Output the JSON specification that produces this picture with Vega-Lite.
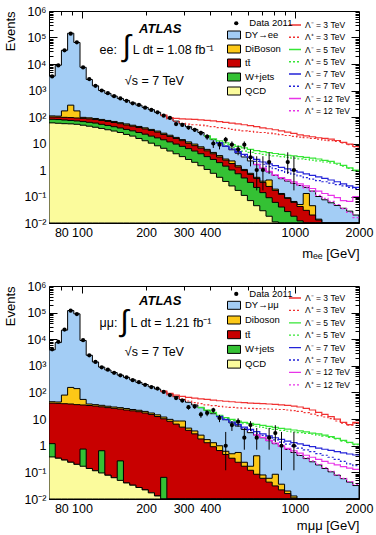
{
  "$schema": "https://vega.github.io/schema/vega-lite/v6.json",
  "background": "white",
  "padding": {"left": 4, "top": 4, "right": 4, "bottom": 4},
  "config": {
    "font": "Liberation Sans",
    "view": {"stroke": "black", "strokeWidth": 1},
    "axis": {"labelFont": "Liberation Sans", "titleFont": "Liberation Sans", "labelColor": "black", "titleColor": "black", "titleFontWeight": "normal", "domain": false, "grid": false, "tickColor": "black", "labelFontSize": 12.5, "titleFontSize": 13, "labelOverlap": false, "labelFlush": false},
    "legend": {"padding": 0, "labelFont": "Liberation Sans", "labelColor": "black", "labelLimit": 300, "titlePadding": 0}
  },
  "datasets": {
    "bgE": [
      {"m":70,"dy":3500,"db":110,"tt":100,"w":82,"qcd":60},
      {"m":74.86,"dy":9000,"db":108,"tt":99,"w":80,"qcd":58},
      {"m":80.06,"dy":33000,"db":170,"tt":97,"w":77,"qcd":56},
      {"m":85.61,"dy":145000,"db":280,"tt":95,"w":74,"qcd":55},
      {"m":91.55,"dy":65000,"db":170,"tt":92,"w":71,"qcd":53},
      {"m":97.88,"dy":7500,"db":97,"tt":89,"w":67,"qcd":49},
      {"m":104.67,"dy":2600,"db":93,"tt":85,"w":63,"qcd":45},
      {"m":111.92,"dy":1500,"db":88,"tt":80,"w":59,"qcd":41},
      {"m":119.69,"dy":1000,"db":81,"tt":74,"w":53,"qcd":37},
      {"m":128.0,"dy":780,"db":74,"tt":68,"w":48,"qcd":33},
      {"m":136.89,"dy":620,"db":68,"tt":62,"w":43,"qcd":29.5},
      {"m":146.39,"dy":500,"db":61,"tt":56,"w":38.5,"qcd":26},
      {"m":156.55,"dy":420,"db":55,"tt":50,"w":34,"qcd":22},
      {"m":167.41,"dy":340,"db":49,"tt":45,"w":30,"qcd":19},
      {"m":179.03,"dy":280,"db":44,"tt":40,"w":26,"qcd":15.5},
      {"m":191.46,"dy":230,"db":39,"tt":35.5,"w":22.5,"qcd":12.7},
      {"m":204.74,"dy":190,"db":34,"tt":31,"w":19,"qcd":10.3},
      {"m":218.95,"dy":150,"db":29.5,"tt":27,"w":16.3,"qcd":8.2},
      {"m":234.14,"dy":115,"db":24.5,"tt":22,"w":13.8,"qcd":6.6},
      {"m":250.38,"dy":90,"db":20.5,"tt":18.5,"w":11.5,"qcd":5.2},
      {"m":267.75,"dy":70,"db":17,"tt":15.5,"w":9.5,"qcd":4.1},
      {"m":286.33,"dy":55,"db":14,"tt":12.8,"w":7.8,"qcd":3.2},
      {"m":306.2,"dy":43,"db":11.5,"tt":10.2,"w":6.4,"qcd":2.5},
      {"m":327.44,"dy":34,"db":9.5,"tt":8.3,"w":5.2,"qcd":1.95},
      {"m":350.17,"dy":26,"db":7.5,"tt":6.7,"w":4.1,"qcd":1.45},
      {"m":374.46,"dy":19,"db":6.0,"tt":5.3,"w":3.2,"qcd":1.05},
      {"m":400.45,"dy":14,"db":4.6,"tt":4.1,"w":2.5,"qcd":0.75},
      {"m":428.23,"dy":10.5,"db":3.5,"tt":3.1,"w":1.9,"qcd":0.53},
      {"m":457.95,"dy":7.8,"db":2.6,"tt":2.35,"w":1.4,"qcd":0.37},
      {"m":489.72,"dy":5.8,"db":2.2,"tt":1.75,"w":1.0,"qcd":0.25},
      {"m":523.7,"dy":4.3,"db":1.45,"tt":1.3,"w":0.72,"qcd":0.17},
      {"m":559.63,"dy":3.1,"db":1.05,"tt":0.95,"w":0.5,"qcd":0.11},
      {"m":598.12,"dy":2.2,"db":0.75,"tt":0.68,"w":0.34,"qcd":0.07},
      {"m":639.66,"dy":1.6,"db":0.53,"tt":0.48,"w":0.22,"qcd":0.045},
      {"m":684.04,"dy":1.15,"db":0.38,"tt":0.34,"w":0.14,"qcd":0.029},
      {"m":731.52,"dy":0.85,"db":0.42,"tt":0.24,"w":0.09,"qcd":0.018},
      {"m":782.28,"dy":0.62,"db":0.19,"tt":0.17,"w":0.06,"qcd":0.011},
      {"m":836.55,"dy":0.47,"db":0.13,"tt":0.12,"w":0.04,"qcd":0.007},
      {"m":894.43,"dy":0.38,"db":0.09,"tt":0.085,"w":0.027,"qcd":0.001},
      {"m":956.59,"dy":0.31,"db":0.065,"tt":0.06,"w":0.018,"qcd":0.001},
      {"m":1022.9,"dy":0.26,"db":0.05,"tt":0.042,"w":0.012,"qcd":0.001},
      {"m":1093.9,"dy":0.22,"db":0.13,"tt":0.03,"w":0.008,"qcd":0.001},
      {"m":1169.8,"dy":0.16,"db":0.045,"tt":0.02,"w":0.001,"qcd":0.001},
      {"m":1250.8,"dy":0.1,"db":0.014,"tt":0.013,"w":0.001,"qcd":0.001},
      {"m":1337.7,"dy":0.075,"db":0.009,"tt":0.008,"w":0.001,"qcd":0.001},
      {"m":1430.6,"dy":0.058,"db":0.001,"tt":0.001,"w":0.001,"qcd":0.001},
      {"m":1529.8,"dy":0.046,"db":0.001,"tt":0.001,"w":0.001,"qcd":0.001},
      {"m":1635.9,"dy":0.036,"db":0.001,"tt":0.001,"w":0.001,"qcd":0.001},
      {"m":1749.4,"dy":0.028,"db":0.001,"tt":0.001,"w":0.001,"qcd":0.001},
      {"m":1870.6,"dy":0.02,"db":0.001,"tt":0.001,"w":0.001,"qcd":0.001},
      {"m":2000,"dy":0.02,"db":0.001,"tt":0.001,"w":0.001,"qcd":0.001}
    ],
    "dataE": [
      {"m":72.4,"n":3400,"lo":3342,"hi":3458},
      {"m":77.4,"n":8800,"lo":8706,"hi":8894},
      {"m":82.8,"n":33000,"lo":32818,"hi":33182},
      {"m":88.5,"n":140000,"lo":139626,"hi":140374},
      {"m":94.6,"n":66000,"lo":65743,"hi":66257},
      {"m":101.2,"n":7400,"lo":7314,"hi":7486},
      {"m":108.2,"n":2700,"lo":2648,"hi":2752},
      {"m":115.7,"n":1500,"lo":1461,"hi":1539},
      {"m":123.8,"n":1000,"lo":968,"hi":1032},
      {"m":132.3,"n":790,"lo":762,"hi":818},
      {"m":141.5,"n":610,"lo":585,"hi":635},
      {"m":151.4,"n":500,"lo":478,"hi":522},
      {"m":161.9,"n":410,"lo":390,"hi":430},
      {"m":173.1,"n":330,"lo":312,"hi":348},
      {"m":185.1,"n":285,"lo":268,"hi":302},
      {"m":197.9,"n":225,"lo":210,"hi":240},
      {"m":211.7,"n":185,"lo":171,"hi":199},
      {"m":226.3,"n":150,"lo":138,"hi":162},
      {"m":242.0,"n":112,"lo":101,"hi":123},
      {"m":258.8,"n":92,"lo":82,"hi":102},
      {"m":276.7,"n":54,"lo":46.7,"hi":61.3},
      {"m":295.9,"n":50,"lo":42.9,"hi":57.1},
      {"m":316.4,"n":40,"lo":33.7,"hi":46.3},
      {"m":338.4,"n":33,"lo":27.3,"hi":38.7},
      {"m":361.9,"n":25,"lo":20,"hi":30},
      {"m":387.0,"n":18,"lo":13.8,"hi":22.2},
      {"m":413.8,"n":10,"lo":6.8,"hi":13.2},
      {"m":442.5,"n":9,"lo":6,"hi":12},
      {"m":473.2,"n":14,"lo":10.3,"hi":17.7},
      {"m":506.0,"n":9,"lo":6,"hi":12},
      {"m":541.1,"n":6,"lo":3.6,"hi":8.4},
      {"m":578.7,"n":9,"lo":6,"hi":12},
      {"m":618.8,"n":3,"lo":1.37,"hi":5.92},
      {"m":661.7,"n":1,"lo":0.17,"hi":3.3},
      {"m":707.6,"n":1,"lo":0.17,"hi":3.3},
      {"m":756.7,"n":2,"lo":0.71,"hi":4.64},
      {"m":925.3,"n":2,"lo":0.71,"hi":4.64},
      {"m":989.3,"n":1,"lo":0.17,"hi":3.3}
    ],
    "sigE": [
      {"m":234.14,"m3":118,"p3":113},
      {"m":250.38,"m3":95,"p3":85},
      {"m":267.75,"m3":88,"p3":65},
      {"m":286.33,"m3":85,"p3":58},
      {"m":306.2,"m3":83,"p3":54},
      {"m":327.44,"m3":81,"p3":51},
      {"m":350.17,"m3":78,"p3":49},
      {"m":374.46,"m3":75,"p3":46,"m5":19.5,"p5":19.2},
      {"m":400.45,"m3":72,"p3":43,"m5":15,"p5":14.3},
      {"m":428.23,"m3":67,"p3":40,"m5":12.5,"p5":11,"m7":10.6,"p7":10.5},
      {"m":457.95,"m3":63,"p3":37,"m5":10.5,"p5":8.8,"m7":8.0,"p7":7.9},
      {"m":489.72,"m3":59,"p3":34,"m5":9.0,"p5":7.2,"m7":6.2,"p7":6.0},
      {"m":523.7,"m3":55,"p3":32,"m5":7.8,"p5":6.0,"m7":4.9,"p7":4.6},
      {"m":559.63,"m3":51,"p3":30,"m5":6.8,"p5":5.2,"m7":3.9,"p7":3.5},
      {"m":598.12,"m3":47,"p3":28.5,"m5":6.0,"p5":4.6,"m7":3.1,"p7":2.7},
      {"m":639.66,"m3":43,"p3":27,"m5":5.4,"p5":4.2,"m7":2.5,"p7":2.1,"m12":1.62,"p12":1.6},
      {"m":684.04,"m3":39,"p3":26,"m5":4.9,"p5":3.9,"m7":2.0,"p7":1.65,"m12":1.17,"p12":1.15},
      {"m":731.52,"m3":36,"p3":24.5,"m5":4.5,"p5":3.6,"m7":1.7,"p7":1.35,"m12":0.88,"p12":0.85},
      {"m":782.28,"m3":33,"p3":23,"m5":4.2,"p5":3.4,"m7":1.45,"p7":1.12,"m12":0.66,"p12":0.63},
      {"m":836.55,"m3":30,"p3":21.5,"m5":3.9,"p5":3.2,"m7":1.25,"p7":0.95,"m12":0.52,"p12":0.48},
      {"m":894.43,"m3":27,"p3":20,"m5":3.6,"p5":3.0,"m7":1.1,"p7":0.82,"m12":0.43,"p12":0.39},
      {"m":956.59,"m3":24,"p3":18.6,"m5":3.4,"p5":2.8,"m7":0.95,"p7":0.7,"m12":0.36,"p12":0.32},
      {"m":1022.9,"m3":21,"p3":17.5,"m5":3.2,"p5":2.65,"m7":0.83,"p7":0.6,"m12":0.3,"p12":0.26},
      {"m":1093.9,"m3":19.5,"p3":16.5,"m5":3.0,"p5":2.5,"m7":0.72,"p7":0.52,"m12":0.25,"p12":0.21},
      {"m":1169.8,"m3":18,"p3":15.5,"m5":2.8,"p5":2.35,"m7":0.63,"p7":0.45,"m12":0.2,"p12":0.16},
      {"m":1250.8,"m3":16.5,"p3":14.5,"m5":2.6,"p5":2.2,"m7":0.55,"p7":0.4,"m12":0.16,"p12":0.11},
      {"m":1337.7,"m3":15.5,"p3":13.5,"m5":2.3,"p5":2.0,"m7":0.48,"p7":0.36,"m12":0.13,"p12":0.085},
      {"m":1430.6,"m3":14.5,"p3":12.8,"m5":2.1,"p5":1.85,"m7":0.42,"p7":0.32,"m12":0.11,"p12":0.065},
      {"m":1529.8,"m3":13,"p3":12,"m5":1.8,"p5":1.65,"m7":0.36,"p7":0.28,"m12":0.09,"p12":0.05},
      {"m":1635.9,"m3":11,"p3":10.5,"m5":1.5,"p5":1.4,"m7":0.3,"p7":0.25,"m12":0.07,"p12":0.035},
      {"m":1749.4,"m3":9.5,"p3":9,"m5":1.2,"p5":1.15,"m7":0.25,"p7":0.22,"m12":0.065,"p12":0.025},
      {"m":1870.6,"m3":7.7,"p3":7.5,"m5":1.0,"p5":0.95,"m7":0.22,"p7":0.2,"m12":0.1,"p12":0.016},
      {"m":2000,"m3":7.7,"p3":7.5,"m5":1.0,"p5":0.95,"m7":0.22,"p7":0.2,"m12":0.1,"p12":0.016}
    ],
    "bgM": [
      {"m":70,"dy":4000,"db":45,"tt":40,"w":1.2,"qcd":0.38},
      {"m":74.86,"dy":7500,"db":44,"tt":39,"w":0.34,"qcd":0.34},
      {"m":80.06,"dy":22000,"db":80,"tt":38,"w":0.29,"qcd":0.29},
      {"m":85.61,"dy":120000,"db":155,"tt":37,"w":0.24,"qcd":0.24},
      {"m":91.55,"dy":90000,"db":140,"tt":35,"w":0.2,"qcd":0.2},
      {"m":97.88,"dy":9000,"db":55,"tt":34,"w":0.75,"qcd":0.17},
      {"m":104.67,"dy":2500,"db":37,"tt":32.5,"w":0.14,"qcd":0.14},
      {"m":111.92,"dy":1400,"db":35,"tt":31,"w":0.115,"qcd":0.115},
      {"m":119.69,"dy":900,"db":33,"tt":29,"w":0.65,"qcd":0.095},
      {"m":128.0,"dy":700,"db":30.5,"tt":27,"w":0.078,"qcd":0.078},
      {"m":136.89,"dy":560,"db":28.5,"tt":25.5,"w":0.063,"qcd":0.063},
      {"m":146.39,"dy":450,"db":27,"tt":24,"w":0.27,"qcd":0.05},
      {"m":156.55,"dy":370,"db":25,"tt":22,"w":0.04,"qcd":0.04},
      {"m":167.41,"dy":300,"db":23,"tt":20.5,"w":0.033,"qcd":0.033},
      {"m":179.03,"dy":240,"db":21.5,"tt":19,"w":0.027,"qcd":0.027},
      {"m":191.46,"dy":200,"db":19.5,"tt":17,"w":0.022,"qcd":0.022},
      {"m":204.74,"dy":165,"db":17,"tt":15,"w":0.017,"qcd":0.017},
      {"m":218.95,"dy":135,"db":14.5,"tt":12.5,"w":0.013,"qcd":0.013},
      {"m":234.14,"dy":110,"db":12,"tt":10.3,"w":0.065,"qcd":0.009},
      {"m":250.38,"dy":88,"db":9.8,"tt":8.3,"w":0.001,"qcd":0.001},
      {"m":267.75,"dy":70,"db":8.5,"tt":6.5,"w":0.001,"qcd":0.001},
      {"m":286.33,"dy":55,"db":8.5,"tt":5.0,"w":0.001,"qcd":0.001},
      {"m":306.2,"dy":43,"db":4.6,"tt":3.8,"w":0.001,"qcd":0.001},
      {"m":327.44,"dy":34,"db":3.6,"tt":2.8,"w":0.001,"qcd":0.001},
      {"m":350.17,"dy":27,"db":2.5,"tt":1.8,"w":0.001,"qcd":0.001},
      {"m":374.46,"dy":21,"db":1.7,"tt":1.3,"w":0.001,"qcd":0.001},
      {"m":400.45,"dy":16,"db":1.3,"tt":0.92,"w":0.001,"qcd":0.001},
      {"m":428.23,"dy":12.5,"db":1.0,"tt":0.66,"w":0.001,"qcd":0.001},
      {"m":457.95,"dy":9.5,"db":0.62,"tt":0.47,"w":0.001,"qcd":0.001},
      {"m":489.72,"dy":7.2,"db":0.5,"tt":0.34,"w":0.001,"qcd":0.001},
      {"m":523.7,"dy":5.5,"db":0.56,"tt":0.24,"w":0.001,"qcd":0.001},
      {"m":559.63,"dy":4.1,"db":0.24,"tt":0.17,"w":0.001,"qcd":0.001},
      {"m":598.12,"dy":3.1,"db":0.17,"tt":0.12,"w":0.001,"qcd":0.001},
      {"m":639.66,"dy":2.5,"db":0.42,"tt":0.085,"w":0.001,"qcd":0.001},
      {"m":684.04,"dy":2.0,"db":0.08,"tt":0.06,"w":0.001,"qcd":0.001},
      {"m":731.52,"dy":1.55,"db":0.06,"tt":0.043,"w":0.001,"qcd":0.001},
      {"m":782.28,"dy":1.2,"db":0.085,"tt":0.031,"w":0.001,"qcd":0.001},
      {"m":836.55,"dy":0.95,"db":0.036,"tt":0.022,"w":0.001,"qcd":0.001},
      {"m":894.43,"dy":0.73,"db":0.02,"tt":0.016,"w":0.001,"qcd":0.001},
      {"m":956.59,"dy":0.56,"db":0.013,"tt":0.011,"w":0.001,"qcd":0.001},
      {"m":1022.9,"dy":0.43,"db":0.009,"tt":0.008,"w":0.001,"qcd":0.001},
      {"m":1093.9,"dy":0.33,"db":0.001,"tt":0.001,"w":0.001,"qcd":0.001},
      {"m":1169.8,"dy":0.25,"db":0.001,"tt":0.001,"w":0.001,"qcd":0.001},
      {"m":1250.8,"dy":0.19,"db":0.001,"tt":0.001,"w":0.001,"qcd":0.001},
      {"m":1337.7,"dy":0.14,"db":0.001,"tt":0.001,"w":0.001,"qcd":0.001},
      {"m":1430.6,"dy":0.105,"db":0.001,"tt":0.001,"w":0.001,"qcd":0.001},
      {"m":1529.8,"dy":0.078,"db":0.001,"tt":0.001,"w":0.001,"qcd":0.001},
      {"m":1635.9,"dy":0.058,"db":0.001,"tt":0.001,"w":0.001,"qcd":0.001},
      {"m":1749.4,"dy":0.043,"db":0.001,"tt":0.001,"w":0.001,"qcd":0.001},
      {"m":1870.6,"dy":0.032,"db":0.001,"tt":0.001,"w":0.001,"qcd":0.001},
      {"m":2000,"dy":0.032,"db":0.001,"tt":0.001,"w":0.001,"qcd":0.001}
    ],
    "dataM": [
      {"m":72.4,"n":4200,"lo":4135,"hi":4265},
      {"m":77.4,"n":8000,"lo":7911,"hi":8089},
      {"m":82.8,"n":23000,"lo":22848,"hi":23152},
      {"m":88.5,"n":118000,"lo":117656,"hi":118344},
      {"m":94.6,"n":88000,"lo":87703,"hi":88297},
      {"m":101.2,"n":9200,"lo":9104,"hi":9296},
      {"m":108.2,"n":2500,"lo":2450,"hi":2550},
      {"m":115.7,"n":1400,"lo":1363,"hi":1437},
      {"m":123.8,"n":880,"lo":850,"hi":910},
      {"m":132.3,"n":720,"lo":693,"hi":747},
      {"m":141.5,"n":550,"lo":527,"hi":573},
      {"m":151.4,"n":440,"lo":419,"hi":461},
      {"m":161.9,"n":370,"lo":351,"hi":389},
      {"m":173.1,"n":290,"lo":273,"hi":307},
      {"m":185.1,"n":245,"lo":229,"hi":261},
      {"m":197.9,"n":195,"lo":181,"hi":209},
      {"m":211.7,"n":160,"lo":147,"hi":173},
      {"m":226.3,"n":140,"lo":128,"hi":152},
      {"m":242.0,"n":105,"lo":95,"hi":115},
      {"m":258.8,"n":80,"lo":71,"hi":89},
      {"m":276.7,"n":62,"lo":54,"hi":70},
      {"m":295.9,"n":50,"lo":43,"hi":57},
      {"m":316.4,"n":28,"lo":22.7,"hi":33.3},
      {"m":338.4,"n":30,"lo":24.5,"hi":35.5},
      {"m":361.9,"n":15,"lo":11.2,"hi":19},
      {"m":387.0,"n":17,"lo":12.9,"hi":21.2},
      {"m":413.8,"n":22,"lo":17.3,"hi":26.7},
      {"m":442.5,"n":11,"lo":7.7,"hi":14.4},
      {"m":473.2,"n":1,"lo":0.12,"hi":3.3},
      {"m":506.0,"n":6,"lo":3.6,"hi":8.4},
      {"m":541.1,"n":8,"lo":5.2,"hi":10.8},
      {"m":578.7,"n":2,"lo":0.71,"hi":4.64},
      {"m":618.8,"n":6,"lo":3.6,"hi":8.4},
      {"m":661.7,"n":2,"lo":0.71,"hi":4.64},
      {"m":756.7,"n":2,"lo":0.71,"hi":4.64},
      {"m":809.2,"n":3,"lo":1.37,"hi":5.92},
      {"m":865.0,"n":1,"lo":0.12,"hi":3.3},
      {"m":989.3,"n":1,"lo":0.12,"hi":3.3}
    ],
    "sigM": [
      {"m":234.14,"m3":112,"p3":108},
      {"m":250.38,"m3":92,"p3":82},
      {"m":267.75,"m3":80,"p3":66},
      {"m":286.33,"m3":72,"p3":56},
      {"m":306.2,"m3":66,"p3":48},
      {"m":327.44,"m3":62,"p3":42},
      {"m":350.17,"m3":58,"p3":38,"m5":27.5,"p5":27},
      {"m":374.46,"m3":55,"p3":34,"m5":22,"p5":21.5},
      {"m":400.45,"m3":52,"p3":32,"m5":18,"p5":17},
      {"m":428.23,"m3":49,"p3":30,"m5":14,"p5":13,"m7":12.6,"p7":12.5},
      {"m":457.95,"m3":47,"p3":28.5,"m5":11.5,"p5":10.5,"m7":9.8,"p7":9.6},
      {"m":489.72,"m3":45,"p3":27.5,"m5":9.8,"p5":8.8,"m7":7.8,"p7":7.5},
      {"m":523.7,"m3":43,"p3":26.5,"m5":8.5,"p5":7.6,"m7":6.3,"p7":5.9},
      {"m":559.63,"m3":41.5,"p3":26,"m5":7.6,"p5":6.7,"m7":5.0,"p7":4.6},
      {"m":598.12,"m3":40,"p3":25.5,"m5":6.9,"p5":6.0,"m7":4.1,"p7":3.7},
      {"m":639.66,"m3":39,"p3":25,"m5":6.3,"p5":5.4,"m7":3.4,"p7":3.0,"m12":2.55,"p12":2.5},
      {"m":684.04,"m3":38,"p3":24.5,"m5":5.8,"p5":4.9,"m7":2.8,"p7":2.45,"m12":2.05,"p12":2.0},
      {"m":731.52,"m3":37,"p3":24,"m5":5.3,"p5":4.5,"m7":2.35,"p7":2.0,"m12":1.6,"p12":1.55},
      {"m":782.28,"m3":36,"p3":23.5,"m5":4.9,"p5":4.1,"m7":2.0,"p7":1.65,"m12":1.27,"p12":1.2},
      {"m":836.55,"m3":34.5,"p3":23,"m5":4.5,"p5":3.8,"m7":1.75,"p7":1.38,"m12":1.0,"p12":0.95},
      {"m":894.43,"m3":33,"p3":22,"m5":4.2,"p5":3.5,"m7":1.5,"p7":1.15,"m12":0.8,"p12":0.73},
      {"m":956.59,"m3":31,"p3":21,"m5":3.9,"p5":3.3,"m7":1.32,"p7":0.97,"m12":0.65,"p12":0.57},
      {"m":1022.9,"m3":28.5,"p3":19.5,"m5":3.6,"p5":3.1,"m7":1.17,"p7":0.82,"m12":0.53,"p12":0.45},
      {"m":1093.9,"m3":25.5,"p3":17.5,"m5":3.3,"p5":2.9,"m7":1.03,"p7":0.7,"m12":0.44,"p12":0.35},
      {"m":1169.8,"m3":22,"p3":15.5,"m5":3.0,"p5":2.7,"m7":0.92,"p7":0.6,"m12":0.37,"p12":0.27},
      {"m":1250.8,"m3":18,"p3":13.5,"m5":2.8,"p5":2.5,"m7":0.82,"p7":0.51,"m12":0.31,"p12":0.2},
      {"m":1337.7,"m3":15,"p3":12,"m5":2.5,"p5":2.3,"m7":0.74,"p7":0.44,"m12":0.26,"p12":0.15},
      {"m":1430.6,"m3":12.5,"p3":10.5,"m5":2.2,"p5":2.05,"m7":0.67,"p7":0.37,"m12":0.22,"p12":0.11},
      {"m":1529.8,"m3":10,"p3":8.5,"m5":1.9,"p5":1.8,"m7":0.6,"p7":0.31,"m12":0.19,"p12":0.08},
      {"m":1635.9,"m3":7.5,"p3":7,"m5":1.6,"p5":1.5,"m7":0.54,"p7":0.26,"m12":0.165,"p12":0.06},
      {"m":1749.4,"m3":6.2,"p3":6,"m5":1.35,"p5":1.3,"m7":0.49,"p7":0.21,"m12":0.145,"p12":0.045},
      {"m":1870.6,"m3":7.5,"p3":7,"m5":1.15,"p5":1.1,"m7":0.45,"p7":0.18,"m12":0.13,"p12":0.035},
      {"m":2000,"m3":7.5,"p3":7,"m5":1.15,"p5":1.1,"m7":0.45,"p7":0.18,"m12":0.13,"p12":0.035}
    ]
  },
  "vconcat": [
    {
      "width": 310,
      "height": 212,
      "resolve": {"axis": {"x": "independent", "y": "independent"}},
      "layer": [
        {
          "data": {"name": "bgE"},
          "mark": {"type": "area", "interpolate": "step-after", "stroke": "black", "strokeWidth": 1, "clip": true},
          "encoding": {
            "x": {"field": "m", "type": "quantitative", "scale": {"type": "log", "domain": [70, 2000], "nice": false},
              "axis": {"values": [70,80,90,100,200,300,400,500,600,700,800,900,1000,2000], "labelExpr": "indexof([80,100,200,300,400,1000,2000], datum.value) >= 0 ? '' + datum.value : ''", "tickSize": {"condition": {"test": "indexof([80,100,200,300,400,1000,2000], datum.value) >= 0", "value": -7}, "value": -4}, "labelPadding": 10, "title": "mₑₑ [GeV]", "titleAnchor": "end", "titlePadding": 6}},
            "y": {"field": "dy", "type": "quantitative", "scale": {"type": "log", "domain": [0.01, 1000000], "nice": false},
              "axis": {"values": [0.01,0.02,0.03,0.04,0.05,0.06,0.07,0.08,0.09,0.1,0.2,0.3,0.4,0.5,0.6,0.7,0.8,0.9,1,2,3,4,5,6,7,8,9,10,20,30,40,50,60,70,80,90,100,200,300,400,500,600,700,800,900,1000,2000,3000,4000,5000,6000,7000,8000,9000,10000,20000,30000,40000,50000,60000,70000,80000,90000,100000,200000,300000,400000,500000,600000,700000,800000,900000,1000000],
                "labelExpr": "abs(log(datum.value)/LN10 - round(log(datum.value)/LN10)) < 0.000001 ? ['10⁻²','10⁻¹','1','10','10²','10³','10⁴','10⁵','10⁶'][round(log(datum.value)/LN10) + 2] : ''",
                "tickSize": {"condition": {"test": "abs(log(datum.value)/LN10 - round(log(datum.value)/LN10)) < 0.000001", "value": -8}, "value": -4},
                "labelPadding": 11, "title": "Events", "titleAnchor": "end", "titlePadding": 6}},
            "y2": {"datum": 0.01},
            "fill": {"datum": "DY→ee", "scale": {"domain": ["DY→ee", "DiBoson", "tt̄", "W+jets", "QCD"], "range": ["#a3cdf5", "#fcc817", "#c80000", "#34c134", "#fbfb9c"]},
              "legend": {"title": null, "orient": "none", "legendX": 179.5, "legendY": 18.5, "symbolType": "M-1.3,-0.8L1.3,-0.8L1.3,0.8L-1.3,0.8Z", "symbolSize": 100, "symbolStrokeColor": "black", "symbolStrokeWidth": 1, "symbolOpacity": 1, "labelFontSize": 9.5, "labelOffset": 5.5, "rowPadding": 1}}
          }
        },
        {
          "data": {"name": "bgE"},
          "mark": {"type": "area", "interpolate": "step-after", "stroke": "black", "strokeWidth": 1, "clip": true},
          "encoding": {"x": {"field": "m", "type": "quantitative", "axis": null}, "y": {"field": "db", "type": "quantitative", "axis": null}, "y2": {"datum": 0.01}, "fill": {"datum": "DiBoson"}}
        },
        {
          "data": {"name": "bgE"},
          "mark": {"type": "area", "interpolate": "step-after", "stroke": "black", "strokeWidth": 1, "clip": true},
          "encoding": {"x": {"field": "m", "type": "quantitative", "axis": null}, "y": {"field": "tt", "type": "quantitative", "axis": null}, "y2": {"datum": 0.01}, "fill": {"datum": "tt̄"}}
        },
        {
          "data": {"name": "bgE"},
          "mark": {"type": "area", "interpolate": "step-after", "stroke": "black", "strokeWidth": 1, "clip": true},
          "encoding": {"x": {"field": "m", "type": "quantitative", "axis": null}, "y": {"field": "w", "type": "quantitative", "axis": null}, "y2": {"datum": 0.01}, "fill": {"datum": "W+jets"}}
        },
        {
          "data": {"name": "bgE"},
          "mark": {"type": "area", "interpolate": "step-after", "stroke": "black", "strokeWidth": 1, "clip": true},
          "encoding": {"x": {"field": "m", "type": "quantitative", "axis": null}, "y": {"field": "qcd", "type": "quantitative", "axis": null}, "y2": {"datum": 0.01}, "fill": {"datum": "QCD"}}
        },
        {
          "data": {"name": "sigE"},
          "transform": [{"fold": ["m3","p3","m5","p5","m7","p7","m12","p12"], "as": ["s", "v"]}, {"filter": "isValid(datum.v)"}],
          "mark": {"type": "line", "interpolate": "step-after", "strokeWidth": 1.2, "clip": true},
          "encoding": {
            "x": {"field": "m", "type": "quantitative", "axis": null},
            "y": {"field": "v", "type": "quantitative", "axis": null},
            "stroke": {"field": "s", "type": "nominal", "scale": {"domain": ["m3","p3","m5","p5","m7","p7","m12","p12"], "range": ["#f03232","#f03232","#36e636","#36e636","#2323d8","#2323d8","#e834e8","#e834e8"]},
              "legend": {"title": null, "orient": "none", "legendX": 239, "legendY": 7, "symbolType": "stroke", "symbolSize": 144, "symbolStrokeWidth": 1.3, "labelFontSize": 8.5, "labelOffset": 3, "rowPadding": 0.25,
                "labelExpr": "['Λ⁻ =  3 TeV','Λ⁺ =  3 TeV','Λ⁻ =  5 TeV','Λ⁺ =  5 TeV','Λ⁻ =  7 TeV','Λ⁺ =  7 TeV','Λ⁻ = 12 TeV','Λ⁺ = 12 TeV'][indexof(['m3','p3','m5','p5','m7','p7','m12','p12'], datum.label)]"}},
            "strokeDash": {"field": "s", "type": "nominal", "scale": {"domain": ["m3","p3","m5","p5","m7","p7","m12","p12"], "range": [[1,0],[2,2],[1,0],[2,2],[1,0],[2,2],[1,0],[2,2]]},
              "legend": {"title": null, "orient": "none", "legendX": 239, "legendY": 7, "symbolType": "stroke", "symbolSize": 144, "symbolStrokeWidth": 1.3, "labelFontSize": 8.5, "labelOffset": 3, "rowPadding": 0.25,
                "labelExpr": "['Λ⁻ =  3 TeV','Λ⁺ =  3 TeV','Λ⁻ =  5 TeV','Λ⁺ =  5 TeV','Λ⁻ =  7 TeV','Λ⁺ =  7 TeV','Λ⁻ = 12 TeV','Λ⁺ = 12 TeV'][indexof(['m3','p3','m5','p5','m7','p7','m12','p12'], datum.label)]"}}
          }
        },
        {
          "data": {"name": "dataE"},
          "mark": {"type": "rule", "color": "black", "strokeWidth": 1, "clip": true},
          "encoding": {
            "x": {"field": "m", "type": "quantitative", "axis": {"orient": "top", "values": [80,90,100,200,300,400,500,600,700,800,900,1000], "labels": false, "title": null, "tickSize": {"condition": {"test": "indexof([100,1000], datum.value) >= 0", "value": -7}, "value": -4}}},
            "y": {"field": "lo", "type": "quantitative", "axis": {"orient": "right", "values": [0.02,0.03,0.04,0.05,0.06,0.07,0.08,0.09,0.1,0.2,0.3,0.4,0.5,0.6,0.7,0.8,0.9,1,2,3,4,5,6,7,8,9,10,20,30,40,50,60,70,80,90,100,200,300,400,500,600,700,800,900,1000,2000,3000,4000,5000,6000,7000,8000,9000,10000,20000,30000,40000,50000,60000,70000,80000,90000,100000,200000,300000,400000,500000,600000,700000,800000,900000], "labels": false, "title": null, "tickSize": {"condition": {"test": "abs(log(datum.value)/LN10 - round(log(datum.value)/LN10)) < 0.000001", "value": -8}, "value": -4}}},
            "y2": {"field": "hi"}
          }
        },
        {
          "data": {"name": "dataE"},
          "mark": {"type": "point", "filled": true, "color": "black", "size": 18, "opacity": 1, "clip": true},
          "encoding": {"x": {"field": "m", "type": "quantitative", "axis": null}, "y": {"field": "n", "type": "quantitative", "axis": null},
            "shape": {"datum": "Data 2011", "scale": {"domain": ["Data 2011"], "range": ["circle"]},
              "legend": {"title": null, "orient": "none", "legendX": 182.5, "legendY": 7.5, "symbolFillColor": "black", "symbolStrokeColor": "black", "symbolSize": 18, "labelFontSize": 9.5, "labelOffset": 8.3}}}
        },
        {
          "data": {"values": [{"m": 233, "v": 210000, "t": "ATLAS"}]},
          "mark": {"type": "text", "fontWeight": "bold", "fontStyle": "italic", "fontSize": 13, "align": "center", "baseline": "middle", "color": "black"},
          "encoding": {"x": {"field": "m", "type": "quantitative", "axis": null}, "y": {"field": "v", "type": "quantitative", "axis": null}, "text": {"field": "t"}}
        },
        {
          "data": {"values": [{"m": 121, "v": 33000, "t": "ee:"}, {"m": 173, "v": 33000, "t": "L dt = 1.08 fb⁻¹"}, {"m": 159, "v": 2300, "t": "√s = 7 TeV"}]},
          "mark": {"type": "text", "fontSize": 12.5, "align": "left", "baseline": "middle", "color": "black"},
          "encoding": {"x": {"field": "m", "type": "quantitative", "axis": null}, "y": {"field": "v", "type": "quantitative", "axis": null}, "text": {"field": "t"}}
        },
        {
          "data": {"values": [{"m": 162, "v": 43000, "t": "∫"}]},
          "mark": {"type": "text", "fontSize": 30, "align": "center", "baseline": "middle", "color": "black"},
          "encoding": {"x": {"field": "m", "type": "quantitative", "axis": null}, "y": {"field": "v", "type": "quantitative", "axis": null}, "text": {"field": "t"}}
        }
      ]
    },
    {
      "width": 310,
      "height": 213,
      "resolve": {"axis": {"x": "independent", "y": "independent"}},
      "layer": [
        {
          "data": {"name": "bgM"},
          "mark": {"type": "area", "interpolate": "step-after", "stroke": "black", "strokeWidth": 1, "clip": true},
          "encoding": {
            "x": {"field": "m", "type": "quantitative", "scale": {"type": "log", "domain": [70, 2000], "nice": false},
              "axis": {"values": [70,80,90,100,200,300,400,500,600,700,800,900,1000,2000], "labelExpr": "indexof([80,100,200,300,400,1000,2000], datum.value) >= 0 ? '' + datum.value : ''", "tickSize": {"condition": {"test": "indexof([80,100,200,300,400,1000,2000], datum.value) >= 0", "value": -7}, "value": -4}, "labelPadding": 10, "title": "mμμ [GeV]", "titleAnchor": "end", "titlePadding": 2}},
            "y": {"field": "dy", "type": "quantitative", "scale": {"type": "log", "domain": [0.01, 1000000], "nice": false},
              "axis": {"values": [0.01,0.02,0.03,0.04,0.05,0.06,0.07,0.08,0.09,0.1,0.2,0.3,0.4,0.5,0.6,0.7,0.8,0.9,1,2,3,4,5,6,7,8,9,10,20,30,40,50,60,70,80,90,100,200,300,400,500,600,700,800,900,1000,2000,3000,4000,5000,6000,7000,8000,9000,10000,20000,30000,40000,50000,60000,70000,80000,90000,100000,200000,300000,400000,500000,600000,700000,800000,900000,1000000],
                "labelExpr": "abs(log(datum.value)/LN10 - round(log(datum.value)/LN10)) < 0.000001 ? ['10⁻²','10⁻¹','1','10','10²','10³','10⁴','10⁵','10⁶'][round(log(datum.value)/LN10) + 2] : ''",
                "tickSize": {"condition": {"test": "abs(log(datum.value)/LN10 - round(log(datum.value)/LN10)) < 0.000001", "value": -8}, "value": -4},
                "labelPadding": 11, "title": "Events", "titleAnchor": "end", "titlePadding": 6}},
            "y2": {"datum": 0.01},
            "fill": {"datum": "DY→μμ", "scale": {"domain": ["DY→μμ", "Diboson", "tt̄", "W+jets", "QCD"], "range": ["#a3cdf5", "#fcc817", "#c80000", "#34c134", "#fbfb9c"]},
              "legend": {"title": null, "orient": "none", "legendX": 179.5, "legendY": 13.8, "symbolType": "M-1.3,-0.8L1.3,-0.8L1.3,0.8L-1.3,0.8Z", "symbolSize": 100, "symbolStrokeColor": "black", "symbolStrokeWidth": 1, "symbolOpacity": 1, "labelFontSize": 9.5, "labelOffset": 5.5, "rowPadding": 1.7}}
          }
        },
        {
          "data": {"name": "bgM"},
          "mark": {"type": "area", "interpolate": "step-after", "stroke": "black", "strokeWidth": 1, "clip": true},
          "encoding": {"x": {"field": "m", "type": "quantitative", "axis": null}, "y": {"field": "db", "type": "quantitative", "axis": null}, "y2": {"datum": 0.01}, "fill": {"datum": "Diboson"}}
        },
        {
          "data": {"name": "bgM"},
          "mark": {"type": "area", "interpolate": "step-after", "stroke": "black", "strokeWidth": 1, "clip": true},
          "encoding": {"x": {"field": "m", "type": "quantitative", "axis": null}, "y": {"field": "tt", "type": "quantitative", "axis": null}, "y2": {"datum": 0.01}, "fill": {"datum": "tt̄"}}
        },
        {
          "data": {"name": "bgM"},
          "mark": {"type": "area", "interpolate": "step-after", "stroke": "black", "strokeWidth": 1, "clip": true},
          "encoding": {"x": {"field": "m", "type": "quantitative", "axis": null}, "y": {"field": "w", "type": "quantitative", "axis": null}, "y2": {"datum": 0.01}, "fill": {"datum": "W+jets"}}
        },
        {
          "data": {"name": "bgM"},
          "mark": {"type": "area", "interpolate": "step-after", "stroke": "black", "strokeWidth": 1, "clip": true},
          "encoding": {"x": {"field": "m", "type": "quantitative", "axis": null}, "y": {"field": "qcd", "type": "quantitative", "axis": null}, "y2": {"datum": 0.01}, "fill": {"datum": "QCD"}}
        },
        {
          "data": {"name": "sigM"},
          "transform": [{"fold": ["m3","p3","m5","p5","m7","p7","m12","p12"], "as": ["s", "v"]}, {"filter": "isValid(datum.v)"}],
          "mark": {"type": "line", "interpolate": "step-after", "strokeWidth": 1.2, "clip": true},
          "encoding": {
            "x": {"field": "m", "type": "quantitative", "axis": null},
            "y": {"field": "v", "type": "quantitative", "axis": null},
            "stroke": {"field": "s", "type": "nominal", "scale": {"domain": ["m3","p3","m5","p5","m7","p7","m12","p12"], "range": ["#f03232","#f03232","#36e636","#36e636","#2323d8","#2323d8","#e834e8","#e834e8"]},
              "legend": {"title": null, "orient": "none", "legendX": 239, "legendY": 5, "symbolType": "stroke", "symbolSize": 144, "symbolStrokeWidth": 1.3, "labelFontSize": 8.5, "labelOffset": 3, "rowPadding": 0.4,
                "labelExpr": "['Λ⁻ =  3 TeV','Λ⁺ =  3 TeV','Λ⁻ =  5 TeV','Λ⁺ =  5 TeV','Λ⁻ =  7 TeV','Λ⁺ =  7 TeV','Λ⁻ = 12 TeV','Λ⁺ = 12 TeV'][indexof(['m3','p3','m5','p5','m7','p7','m12','p12'], datum.label)]"}},
            "strokeDash": {"field": "s", "type": "nominal", "scale": {"domain": ["m3","p3","m5","p5","m7","p7","m12","p12"], "range": [[1,0],[2,2],[1,0],[2,2],[1,0],[2,2],[1,0],[2,2]]},
              "legend": {"title": null, "orient": "none", "legendX": 239, "legendY": 5, "symbolType": "stroke", "symbolSize": 144, "symbolStrokeWidth": 1.3, "labelFontSize": 8.5, "labelOffset": 3, "rowPadding": 0.4,
                "labelExpr": "['Λ⁻ =  3 TeV','Λ⁺ =  3 TeV','Λ⁻ =  5 TeV','Λ⁺ =  5 TeV','Λ⁻ =  7 TeV','Λ⁺ =  7 TeV','Λ⁻ = 12 TeV','Λ⁺ = 12 TeV'][indexof(['m3','p3','m5','p5','m7','p7','m12','p12'], datum.label)]"}}
          }
        },
        {
          "data": {"name": "dataM"},
          "mark": {"type": "rule", "color": "black", "strokeWidth": 1, "clip": true},
          "encoding": {
            "x": {"field": "m", "type": "quantitative", "axis": {"orient": "top", "values": [80,90,100,200,300,400,500,600,700,800,900,1000], "labels": false, "title": null, "tickSize": {"condition": {"test": "indexof([100,1000], datum.value) >= 0", "value": -7}, "value": -4}}},
            "y": {"field": "lo", "type": "quantitative", "axis": {"orient": "right", "values": [0.02,0.03,0.04,0.05,0.06,0.07,0.08,0.09,0.1,0.2,0.3,0.4,0.5,0.6,0.7,0.8,0.9,1,2,3,4,5,6,7,8,9,10,20,30,40,50,60,70,80,90,100,200,300,400,500,600,700,800,900,1000,2000,3000,4000,5000,6000,7000,8000,9000,10000,20000,30000,40000,50000,60000,70000,80000,90000,100000,200000,300000,400000,500000,600000,700000,800000,900000], "labels": false, "title": null, "tickSize": {"condition": {"test": "abs(log(datum.value)/LN10 - round(log(datum.value)/LN10)) < 0.000001", "value": -8}, "value": -4}}},
            "y2": {"field": "hi"}
          }
        },
        {
          "data": {"name": "dataM"},
          "mark": {"type": "point", "filled": true, "color": "black", "size": 18, "opacity": 1, "clip": true},
          "encoding": {"x": {"field": "m", "type": "quantitative", "axis": null}, "y": {"field": "n", "type": "quantitative", "axis": null},
            "shape": {"datum": "Data 2011", "scale": {"domain": ["Data 2011"], "range": ["circle"]},
              "legend": {"title": null, "orient": "none", "legendX": 182.5, "legendY": 3.2, "symbolFillColor": "black", "symbolStrokeColor": "black", "symbolSize": 18, "labelFontSize": 9.5, "labelOffset": 8.3}}}
        },
        {
          "data": {"values": [{"m": 233, "v": 270000, "t": "ATLAS"}]},
          "mark": {"type": "text", "fontWeight": "bold", "fontStyle": "italic", "fontSize": 13, "align": "center", "baseline": "middle", "color": "black"},
          "encoding": {"x": {"field": "m", "type": "quantitative", "axis": null}, "y": {"field": "v", "type": "quantitative", "axis": null}, "text": {"field": "t"}}
        },
        {
          "data": {"values": [{"m": 121, "v": 42000, "t": "μμ:"}, {"m": 169, "v": 42000, "t": "L dt = 1.21 fb⁻¹"}, {"m": 159, "v": 3400, "t": "√s = 7 TeV"}]},
          "mark": {"type": "text", "fontSize": 12.5, "align": "left", "baseline": "middle", "color": "black"},
          "encoding": {"x": {"field": "m", "type": "quantitative", "axis": null}, "y": {"field": "v", "type": "quantitative", "axis": null}, "text": {"field": "t"}}
        },
        {
          "data": {"values": [{"m": 158, "v": 45000, "t": "∫"}]},
          "mark": {"type": "text", "fontSize": 30, "align": "center", "baseline": "middle", "color": "black"},
          "encoding": {"x": {"field": "m", "type": "quantitative", "axis": null}, "y": {"field": "v", "type": "quantitative", "axis": null}, "text": {"field": "t"}}
        }
      ]
    }
  ],
  "spacing": 18,
  "resolve": {
    "scale": {"x": "independent", "y": "independent", "fill": "independent", "stroke": "independent", "strokeDash": "independent", "shape": "independent"},
    "legend": {"fill": "independent", "stroke": "independent", "strokeDash": "independent", "shape": "independent"}
  }
}
